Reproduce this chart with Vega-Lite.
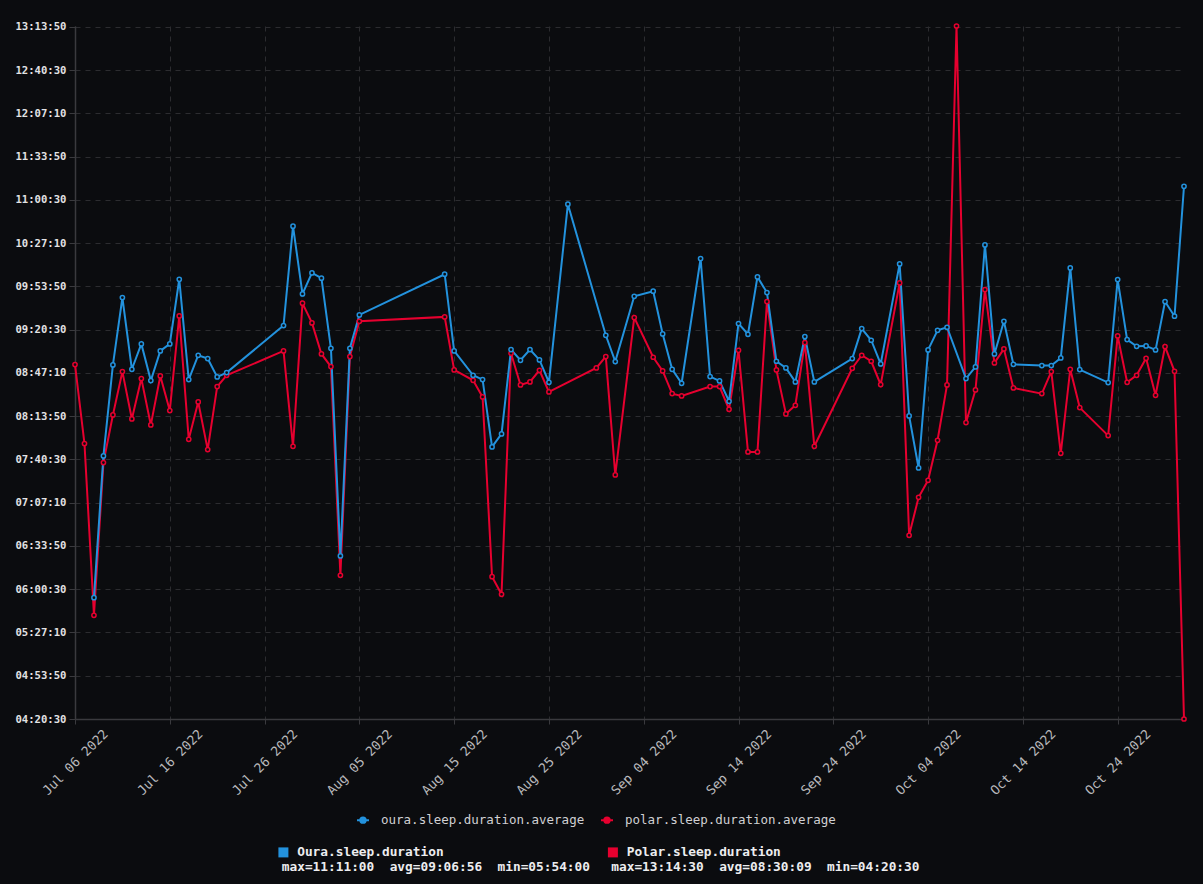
{
  "$schema": "https://vega.github.io/schema/vega-lite/v6.json",
  "width": 1109,
  "height": 693,
  "autosize": {"type": "none"},
  "padding": {"left": 75, "top": 26, "right": 19, "bottom": 165},
  "background": "#0b0c0f",
  "config": {
    "view": {"stroke": null},
    "font": "DejaVu Sans Mono"
  },
  "data": {
    "values": [
      {"date": "2022-07-06", "series": "polar.sleep.duration.average", "seconds": 32016},
      {"date": "2022-07-07", "series": "polar.sleep.duration.average", "seconds": 28362},
      {"date": "2022-07-08", "series": "polar.sleep.duration.average", "seconds": 20424},
      {"date": "2022-07-09", "series": "polar.sleep.duration.average", "seconds": 27484},
      {"date": "2022-07-10", "series": "polar.sleep.duration.average", "seconds": 29688},
      {"date": "2022-07-11", "series": "polar.sleep.duration.average", "seconds": 31692},
      {"date": "2022-07-12", "series": "polar.sleep.duration.average", "seconds": 29503},
      {"date": "2022-07-13", "series": "polar.sleep.duration.average", "seconds": 31368},
      {"date": "2022-07-14", "series": "polar.sleep.duration.average", "seconds": 29226},
      {"date": "2022-07-15", "series": "polar.sleep.duration.average", "seconds": 31491},
      {"date": "2022-07-16", "series": "polar.sleep.duration.average", "seconds": 29888},
      {"date": "2022-07-17", "series": "polar.sleep.duration.average", "seconds": 34266},
      {"date": "2022-07-18", "series": "polar.sleep.duration.average", "seconds": 28563},
      {"date": "2022-07-19", "series": "polar.sleep.duration.average", "seconds": 30289},
      {"date": "2022-07-20", "series": "polar.sleep.duration.average", "seconds": 28085},
      {"date": "2022-07-21", "series": "polar.sleep.duration.average", "seconds": 30998},
      {"date": "2022-07-22", "series": "polar.sleep.duration.average", "seconds": 31522},
      {"date": "2022-07-28", "series": "polar.sleep.duration.average", "seconds": 32647},
      {"date": "2022-07-29", "series": "polar.sleep.duration.average", "seconds": 28239},
      {"date": "2022-07-30", "series": "polar.sleep.duration.average", "seconds": 34852},
      {"date": "2022-07-31", "series": "polar.sleep.duration.average", "seconds": 33942},
      {"date": "2022-08-01", "series": "polar.sleep.duration.average", "seconds": 32509},
      {"date": "2022-08-02", "series": "polar.sleep.duration.average", "seconds": 31923},
      {"date": "2022-08-03", "series": "polar.sleep.duration.average", "seconds": 22274},
      {"date": "2022-08-04", "series": "polar.sleep.duration.average", "seconds": 32385},
      {"date": "2022-08-05", "series": "polar.sleep.duration.average", "seconds": 34019},
      {"date": "2022-08-14", "series": "polar.sleep.duration.average", "seconds": 34220},
      {"date": "2022-08-15", "series": "polar.sleep.duration.average", "seconds": 31769},
      {"date": "2022-08-17", "series": "polar.sleep.duration.average", "seconds": 31291},
      {"date": "2022-08-18", "series": "polar.sleep.duration.average", "seconds": 30520},
      {"date": "2022-08-19", "series": "polar.sleep.duration.average", "seconds": 22212},
      {"date": "2022-08-20", "series": "polar.sleep.duration.average", "seconds": 21395},
      {"date": "2022-08-21", "series": "polar.sleep.duration.average", "seconds": 32540},
      {"date": "2022-08-22", "series": "polar.sleep.duration.average", "seconds": 31075},
      {"date": "2022-08-23", "series": "polar.sleep.duration.average", "seconds": 31214},
      {"date": "2022-08-24", "series": "polar.sleep.duration.average", "seconds": 31753},
      {"date": "2022-08-25", "series": "polar.sleep.duration.average", "seconds": 30752},
      {"date": "2022-08-30", "series": "polar.sleep.duration.average", "seconds": 31861},
      {"date": "2022-08-31", "series": "polar.sleep.duration.average", "seconds": 32385},
      {"date": "2022-09-01", "series": "polar.sleep.duration.average", "seconds": 26913},
      {"date": "2022-09-03", "series": "polar.sleep.duration.average", "seconds": 34189},
      {"date": "2022-09-05", "series": "polar.sleep.duration.average", "seconds": 32355},
      {"date": "2022-09-06", "series": "polar.sleep.duration.average", "seconds": 31723},
      {"date": "2022-09-07", "series": "polar.sleep.duration.average", "seconds": 30674},
      {"date": "2022-09-08", "series": "polar.sleep.duration.average", "seconds": 30567},
      {"date": "2022-09-11", "series": "polar.sleep.duration.average", "seconds": 30998},
      {"date": "2022-09-12", "series": "polar.sleep.duration.average", "seconds": 30998},
      {"date": "2022-09-13", "series": "polar.sleep.duration.average", "seconds": 29950},
      {"date": "2022-09-14", "series": "polar.sleep.duration.average", "seconds": 32678},
      {"date": "2022-09-15", "series": "polar.sleep.duration.average", "seconds": 27977},
      {"date": "2022-09-16", "series": "polar.sleep.duration.average", "seconds": 27977},
      {"date": "2022-09-17", "series": "polar.sleep.duration.average", "seconds": 34929},
      {"date": "2022-09-18", "series": "polar.sleep.duration.average", "seconds": 31769},
      {"date": "2022-09-19", "series": "polar.sleep.duration.average", "seconds": 29734},
      {"date": "2022-09-20", "series": "polar.sleep.duration.average", "seconds": 30135},
      {"date": "2022-09-21", "series": "polar.sleep.duration.average", "seconds": 33033},
      {"date": "2022-09-22", "series": "polar.sleep.duration.average", "seconds": 28239},
      {"date": "2022-09-26", "series": "polar.sleep.duration.average", "seconds": 31846},
      {"date": "2022-09-27", "series": "polar.sleep.duration.average", "seconds": 32447},
      {"date": "2022-09-28", "series": "polar.sleep.duration.average", "seconds": 32170},
      {"date": "2022-09-29", "series": "polar.sleep.duration.average", "seconds": 31091},
      {"date": "2022-10-01", "series": "polar.sleep.duration.average", "seconds": 35792},
      {"date": "2022-10-02", "series": "polar.sleep.duration.average", "seconds": 24124},
      {"date": "2022-10-03", "series": "polar.sleep.duration.average", "seconds": 25881},
      {"date": "2022-10-04", "series": "polar.sleep.duration.average", "seconds": 26667},
      {"date": "2022-10-05", "series": "polar.sleep.duration.average", "seconds": 28517},
      {"date": "2022-10-06", "series": "polar.sleep.duration.average", "seconds": 31075},
      {"date": "2022-10-07", "series": "polar.sleep.duration.average", "seconds": 47670},
      {"date": "2022-10-08", "series": "polar.sleep.duration.average", "seconds": 29333},
      {"date": "2022-10-09", "series": "polar.sleep.duration.average", "seconds": 30844},
      {"date": "2022-10-10", "series": "polar.sleep.duration.average", "seconds": 35484},
      {"date": "2022-10-11", "series": "polar.sleep.duration.average", "seconds": 32093},
      {"date": "2022-10-12", "series": "polar.sleep.duration.average", "seconds": 32740},
      {"date": "2022-10-13", "series": "polar.sleep.duration.average", "seconds": 30937},
      {"date": "2022-10-16", "series": "polar.sleep.duration.average", "seconds": 30674},
      {"date": "2022-10-17", "series": "polar.sleep.duration.average", "seconds": 31692},
      {"date": "2022-10-18", "series": "polar.sleep.duration.average", "seconds": 27915},
      {"date": "2022-10-19", "series": "polar.sleep.duration.average", "seconds": 31800},
      {"date": "2022-10-20", "series": "polar.sleep.duration.average", "seconds": 30027},
      {"date": "2022-10-23", "series": "polar.sleep.duration.average", "seconds": 28732},
      {"date": "2022-10-24", "series": "polar.sleep.duration.average", "seconds": 33341},
      {"date": "2022-10-25", "series": "polar.sleep.duration.average", "seconds": 31199},
      {"date": "2022-10-26", "series": "polar.sleep.duration.average", "seconds": 31522},
      {"date": "2022-10-27", "series": "polar.sleep.duration.average", "seconds": 32308},
      {"date": "2022-10-28", "series": "polar.sleep.duration.average", "seconds": 30597},
      {"date": "2022-10-29", "series": "polar.sleep.duration.average", "seconds": 32848},
      {"date": "2022-10-30", "series": "polar.sleep.duration.average", "seconds": 31707},
      {"date": "2022-10-31", "series": "polar.sleep.duration.average", "seconds": 15630},
      {"date": "2022-07-08", "series": "oura.sleep.duration.average", "seconds": 21240},
      {"date": "2022-07-09", "series": "oura.sleep.duration.average", "seconds": 27792},
      {"date": "2022-07-10", "series": "oura.sleep.duration.average", "seconds": 32000},
      {"date": "2022-07-11", "series": "oura.sleep.duration.average", "seconds": 35114},
      {"date": "2022-07-12", "series": "oura.sleep.duration.average", "seconds": 31800},
      {"date": "2022-07-13", "series": "oura.sleep.duration.average", "seconds": 32971},
      {"date": "2022-07-14", "series": "oura.sleep.duration.average", "seconds": 31276},
      {"date": "2022-07-15", "series": "oura.sleep.duration.average", "seconds": 32647},
      {"date": "2022-07-16", "series": "oura.sleep.duration.average", "seconds": 32971},
      {"date": "2022-07-17", "series": "oura.sleep.duration.average", "seconds": 35961},
      {"date": "2022-07-18", "series": "oura.sleep.duration.average", "seconds": 31322},
      {"date": "2022-07-19", "series": "oura.sleep.duration.average", "seconds": 32447},
      {"date": "2022-07-20", "series": "oura.sleep.duration.average", "seconds": 32293},
      {"date": "2022-07-21", "series": "oura.sleep.duration.average", "seconds": 31445},
      {"date": "2022-07-22", "series": "oura.sleep.duration.average", "seconds": 31646},
      {"date": "2022-07-28", "series": "oura.sleep.duration.average", "seconds": 33819},
      {"date": "2022-07-29", "series": "oura.sleep.duration.average", "seconds": 38412},
      {"date": "2022-07-30", "series": "oura.sleep.duration.average", "seconds": 35283},
      {"date": "2022-07-31", "series": "oura.sleep.duration.average", "seconds": 36254},
      {"date": "2022-08-01", "series": "oura.sleep.duration.average", "seconds": 36008},
      {"date": "2022-08-02", "series": "oura.sleep.duration.average", "seconds": 32771},
      {"date": "2022-08-03", "series": "oura.sleep.duration.average", "seconds": 23168},
      {"date": "2022-08-04", "series": "oura.sleep.duration.average", "seconds": 32771},
      {"date": "2022-08-05", "series": "oura.sleep.duration.average", "seconds": 34312},
      {"date": "2022-08-14", "series": "oura.sleep.duration.average", "seconds": 36193},
      {"date": "2022-08-15", "series": "oura.sleep.duration.average", "seconds": 32647},
      {"date": "2022-08-17", "series": "oura.sleep.duration.average", "seconds": 31522},
      {"date": "2022-08-18", "series": "oura.sleep.duration.average", "seconds": 31322},
      {"date": "2022-08-19", "series": "oura.sleep.duration.average", "seconds": 28208},
      {"date": "2022-08-20", "series": "oura.sleep.duration.average", "seconds": 28809},
      {"date": "2022-08-21", "series": "oura.sleep.duration.average", "seconds": 32709},
      {"date": "2022-08-22", "series": "oura.sleep.duration.average", "seconds": 32216},
      {"date": "2022-08-23", "series": "oura.sleep.duration.average", "seconds": 32709},
      {"date": "2022-08-24", "series": "oura.sleep.duration.average", "seconds": 32231},
      {"date": "2022-08-25", "series": "oura.sleep.duration.average", "seconds": 31199},
      {"date": "2022-08-27", "series": "oura.sleep.duration.average", "seconds": 39430},
      {"date": "2022-08-31", "series": "oura.sleep.duration.average", "seconds": 33372},
      {"date": "2022-09-01", "series": "oura.sleep.duration.average", "seconds": 32154},
      {"date": "2022-09-03", "series": "oura.sleep.duration.average", "seconds": 35175},
      {"date": "2022-09-05", "series": "oura.sleep.duration.average", "seconds": 35407},
      {"date": "2022-09-06", "series": "oura.sleep.duration.average", "seconds": 33434},
      {"date": "2022-09-07", "series": "oura.sleep.duration.average", "seconds": 31800},
      {"date": "2022-09-08", "series": "oura.sleep.duration.average", "seconds": 31152},
      {"date": "2022-09-10", "series": "oura.sleep.duration.average", "seconds": 36917},
      {"date": "2022-09-11", "series": "oura.sleep.duration.average", "seconds": 31461},
      {"date": "2022-09-12", "series": "oura.sleep.duration.average", "seconds": 31260},
      {"date": "2022-09-13", "series": "oura.sleep.duration.average", "seconds": 30320},
      {"date": "2022-09-14", "series": "oura.sleep.duration.average", "seconds": 33911},
      {"date": "2022-09-15", "series": "oura.sleep.duration.average", "seconds": 33418},
      {"date": "2022-09-16", "series": "oura.sleep.duration.average", "seconds": 36069},
      {"date": "2022-09-17", "series": "oura.sleep.duration.average", "seconds": 35345},
      {"date": "2022-09-18", "series": "oura.sleep.duration.average", "seconds": 32170},
      {"date": "2022-09-19", "series": "oura.sleep.duration.average", "seconds": 31861},
      {"date": "2022-09-20", "series": "oura.sleep.duration.average", "seconds": 31214},
      {"date": "2022-09-21", "series": "oura.sleep.duration.average", "seconds": 33310},
      {"date": "2022-09-22", "series": "oura.sleep.duration.average", "seconds": 31214},
      {"date": "2022-09-26", "series": "oura.sleep.duration.average", "seconds": 32293},
      {"date": "2022-09-27", "series": "oura.sleep.duration.average", "seconds": 33680},
      {"date": "2022-09-28", "series": "oura.sleep.duration.average", "seconds": 33141},
      {"date": "2022-09-29", "series": "oura.sleep.duration.average", "seconds": 32046},
      {"date": "2022-10-01", "series": "oura.sleep.duration.average", "seconds": 36671},
      {"date": "2022-10-02", "series": "oura.sleep.duration.average", "seconds": 29642},
      {"date": "2022-10-03", "series": "oura.sleep.duration.average", "seconds": 27237},
      {"date": "2022-10-04", "series": "oura.sleep.duration.average", "seconds": 32694},
      {"date": "2022-10-05", "series": "oura.sleep.duration.average", "seconds": 33603},
      {"date": "2022-10-06", "series": "oura.sleep.duration.average", "seconds": 33742},
      {"date": "2022-10-08", "series": "oura.sleep.duration.average", "seconds": 31368},
      {"date": "2022-10-09", "series": "oura.sleep.duration.average", "seconds": 31908},
      {"date": "2022-10-10", "series": "oura.sleep.duration.average", "seconds": 37549},
      {"date": "2022-10-11", "series": "oura.sleep.duration.average", "seconds": 32509},
      {"date": "2022-10-12", "series": "oura.sleep.duration.average", "seconds": 34019},
      {"date": "2022-10-13", "series": "oura.sleep.duration.average", "seconds": 32031},
      {"date": "2022-10-16", "series": "oura.sleep.duration.average", "seconds": 31969},
      {"date": "2022-10-17", "series": "oura.sleep.duration.average", "seconds": 31969},
      {"date": "2022-10-18", "series": "oura.sleep.duration.average", "seconds": 32324},
      {"date": "2022-10-19", "series": "oura.sleep.duration.average", "seconds": 36486},
      {"date": "2022-10-20", "series": "oura.sleep.duration.average", "seconds": 31784},
      {"date": "2022-10-23", "series": "oura.sleep.duration.average", "seconds": 31183},
      {"date": "2022-10-24", "series": "oura.sleep.duration.average", "seconds": 35946},
      {"date": "2022-10-25", "series": "oura.sleep.duration.average", "seconds": 33172},
      {"date": "2022-10-26", "series": "oura.sleep.duration.average", "seconds": 32863},
      {"date": "2022-10-27", "series": "oura.sleep.duration.average", "seconds": 32878},
      {"date": "2022-10-28", "series": "oura.sleep.duration.average", "seconds": 32694},
      {"date": "2022-10-29", "series": "oura.sleep.duration.average", "seconds": 34929},
      {"date": "2022-10-30", "series": "oura.sleep.duration.average", "seconds": 34251},
      {"date": "2022-10-31", "series": "oura.sleep.duration.average", "seconds": 40260}
    ]
  },
  "encoding": {
    "x": {
      "field": "date",
      "type": "temporal",
      "scale": {"type": "utc", "nice": false},
      "axis": {
        "title": null,
        "values": [
          {"year": 2022, "month": "jul", "date": 6, "utc": true},
          {"year": 2022, "month": "jul", "date": 16, "utc": true},
          {"year": 2022, "month": "jul", "date": 26, "utc": true},
          {"year": 2022, "month": "aug", "date": 5, "utc": true},
          {"year": 2022, "month": "aug", "date": 15, "utc": true},
          {"year": 2022, "month": "aug", "date": 25, "utc": true},
          {"year": 2022, "month": "sep", "date": 4, "utc": true},
          {"year": 2022, "month": "sep", "date": 14, "utc": true},
          {"year": 2022, "month": "sep", "date": 24, "utc": true},
          {"year": 2022, "month": "oct", "date": 4, "utc": true},
          {"year": 2022, "month": "oct", "date": 14, "utc": true},
          {"year": 2022, "month": "oct", "date": 24, "utc": true}
        ],
        "labelExpr": "utcFormat(datum.value, '%b %d %Y')",
        "labelAngle": -45,
        "labelAlign": "center",
        "labelBaseline": "middle",
        "labelPadding": 38,
        "labelFlush": false,
        "labelOverlap": false,
        "labelFont": "DejaVu Sans Mono",
        "labelFontSize": 13,
        "labelColor": "#b9b9bc",
        "tickSize": 5,
        "tickColor": "#3a3a3e",
        "domainColor": "#3a3a3e",
        "domainWidth": 1.5,
        "grid": true,
        "gridColor": "#2c2c30",
        "gridDash": [5, 5]
      }
    },
    "y": {
      "field": "seconds",
      "type": "quantitative",
      "scale": {"domain": [15630, 47670], "nice": false, "zero": false},
      "axis": {
        "title": null,
        "values": [15630, 17630, 19630, 21630, 23630, 25630, 27630, 29630, 31630, 33630, 35630, 37630, 39630, 41630, 43630, 45630, 47630],
        "labelExpr": "utcFormat(datum.value * 1000, '%H:%M:%S')",
        "labelFlush": false,
        "labelOverlap": false,
        "labelFont": "DejaVu Sans Mono",
        "labelFontSize": 10.6,
        "labelFontWeight": "bold",
        "labelColor": "#e2e2e4",
        "labelPadding": 3,
        "tickSize": 6,
        "tickColor": "#3a3a3e",
        "domainColor": "#3a3a3e",
        "domainWidth": 1.5,
        "grid": true,
        "gridColor": "#2c2c30",
        "gridDash": [5, 5]
      }
    }
  },
  "layer": [
    {
      "mark": {
        "type": "line",
        "strokeWidth": 2,
        "point": {"filled": false, "fill": "#0b0c0f", "size": 18, "strokeWidth": 1.5}
      },
      "encoding": {
        "color": {
          "field": "series",
          "type": "nominal",
          "scale": {
            "domain": ["oura.sleep.duration.average", "polar.sleep.duration.average"],
            "range": ["#2392dd", "#e6002f"]
          },
          "legend": {
            "title": null,
            "orient": "none",
            "legendX": 281,
            "legendY": 787,
            "direction": "horizontal",
            "padding": 0,
            "symbolType": "M-1,0L1,0M-0.45,0A0.45,0.45,0,1,1,0.45,0A0.45,0.45,0,1,1,-0.45,0Z",
            "symbolSize": 144,
            "symbolStrokeWidth": 2,
            "labelFont": "DejaVu Sans Mono",
            "labelFontSize": 12.5,
            "labelColor": "#d0d0d3",
            "labelLimit": 500,
            "labelOffset": 11,
            "columnPadding": 12,
            "encode": {
              "symbols": {
                "update": {
                  "fill": {"scale": "color", "field": "value"},
                  "stroke": {"scale": "color", "field": "value"},
                  "strokeWidth": {"value": 2},
                  "opacity": {"value": 1}
                }
              }
            }
          }
        }
      }
    },
    {
      "mark": {"type": "point", "opacity": 0},
      "encoding": {
        "fill": {
          "field": "series",
          "type": "nominal",
          "scale": {
            "domain": ["polar.sleep.duration.average", "oura.sleep.duration.average"],
            "range": ["#e6002f", "#2392dd"]
          },
          "legend": {
            "title": null,
            "orient": "none",
            "legendX": 202,
            "legendY": 820,
            "direction": "horizontal",
            "padding": 0,
            "values": ["oura.sleep.duration.average", "polar.sleep.duration.average"],
            "symbolType": "square",
            "symbolSize": 100,
            "symbolStrokeWidth": 0,
            "symbolOpacity": 1,
            "labelFont": "DejaVu Sans Mono",
            "labelFontSize": 12.8,
            "labelFontWeight": "bold",
            "labelColor": "#ededef",
            "labelLimit": 500,
            "labelOffset": -8,
            "columnPadding": 16.5,
            "labelExpr": "datum.value == 'oura.sleep.duration.average' ? ['\u200b\u00a0\u00a0Oura.sleep.duration', 'max=11:11:00\u00a0\u00a0avg=09:06:56\u00a0\u00a0min=05:54:00'] : ['\u200b\u00a0\u00a0Polar.sleep.duration', 'max=13:14:30\u00a0\u00a0avg=08:30:09\u00a0\u00a0min=04:20:30']",
            "encode": {
              "labels": {
                "enter": {"lineHeight": {"value": 16}},
                "update": {"dy": {"value": 8}, "lineHeight": {"value": 16}}
              }
            }
          }
        }
      }
    }
  ]
}
